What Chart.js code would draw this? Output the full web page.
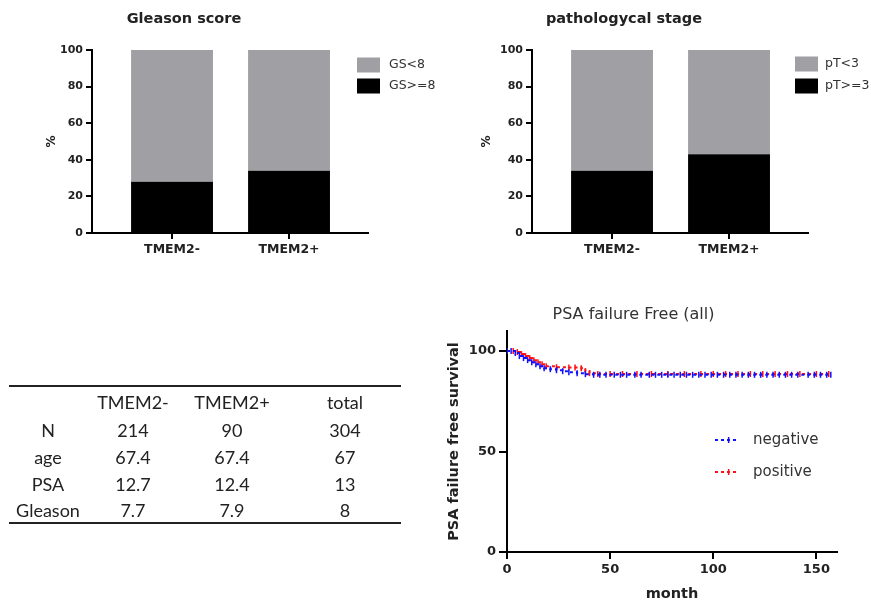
<!DOCTYPE html>
<html>
<head>
<meta charset="utf-8">
<script src="https://cdn.jsdelivr.net/npm/chart.js@4.4.1/dist/chart.umd.min.js"></script>
<style>
body{margin:0;background:#fff;width:871px;height:603px;overflow:hidden;position:relative;}
canvas{position:absolute;}
#tbl{position:absolute;left:0;top:0;width:871px;height:603px;font-family:Lato;font-size:18px;color:#222;}
.cell{position:absolute;transform:translate(-50%,-50%);white-space:nowrap;}
.rule{position:absolute;left:9px;width:392px;height:2px;background:#222;}
</style>
</head>
<body>
<canvas id="gleason" style="left:0;top:0" width="440" height="260"></canvas>
<canvas id="stage" style="left:440px;top:0" width="431" height="260"></canvas>
<div id="tbl"></div>
<canvas id="psa" style="left:430px;top:300px" width="441" height="303"></canvas>
<script>
// bar charts
var categories = ['TMEM2-', 'TMEM2+'];
var gsLow = [72, 66];     // GS<8
var gsHigh = [28, 34];    // GS>=8
var ptLow = [66, 57];     // pT<3
var ptHigh = [34, 43];    // pT>=3

// table
var tableHead = ['', 'TMEM2-', 'TMEM2+', 'total'];
var tableRowNames = ['N', 'age', 'PSA', 'Gleason'];
var tmemNeg = ['214', '67.4', '12.7', '7.7'];
var tmemPos = ['90', '67.4', '12.4', '7.9'];
var totals = ['304', '67', '13', '8'];

// survival curves
var negMonths = [0, 2, 4, 6, 8, 10, 12, 14, 16, 18, 21, 24, 27, 30, 34, 38, 42, 45, 48, 52, 55, 58, 62, 65, 69, 72, 75, 78, 81, 84, 87, 90, 93, 96, 99, 102, 105, 108, 111, 114, 117, 120, 123, 126, 129, 132, 135, 138, 141, 146, 149, 152, 155, 157];
var negSurv = [100, 100, 99, 97.5, 96.5, 95.5, 94.5, 93.5, 92.5, 91.5, 91, 90.5, 90, 89.5, 89, 88.5, 88.2, 88.2, 88.2, 88.2, 88.2, 88.2, 88.2, 88.2, 88.2, 88.2, 88.2, 88.2, 88.2, 88.2, 88.2, 88.2, 88.2, 88.2, 88.2, 88.2, 88.2, 88.2, 88.2, 88.2, 88.2, 88.2, 88.2, 88.2, 88.2, 88.2, 88.2, 88.2, 88.2, 88.2, 88.2, 88.2, 88.2, 88.2];
var posMonths = [0, 3, 5, 7, 9, 11, 13, 15, 17, 19, 24, 30, 33, 36, 38, 40, 44, 50, 56, 63, 70, 78, 86, 94, 100, 106, 112, 118, 124, 130, 136, 142, 150, 156];
var posSurv = [100, 100, 99.5, 98.5, 97.5, 96.5, 95.5, 94.5, 93.5, 92.5, 92, 91.8, 91.8, 91.5, 90, 89, 88.6, 88.6, 88.6, 88.6, 88.6, 88.6, 88.6, 88.6, 88.6, 88.6, 88.6, 88.6, 88.6, 88.6, 88.6, 88.6, 88.6, 88.6];
var monthTicks = [0, 50, 100, 150];
var survTicks = [0, 50, 100];

Chart.defaults.font.family = 'DejaVu Sans';
Chart.defaults.color = '#222';

// legend drawn at fixed spots (boxes for bars, dotted sample for lines)
var fixedLegend = {
  id: 'fixedLegend',
  afterDraw: function(chart, args, o){
    if(!o.items) return;
    var ctx = chart.ctx;
    ctx.save();
    ctx.font = o.font;
    ctx.textBaseline = 'middle';
    o.items.forEach(function(idx, k){
      var ds = chart.data.datasets[idx];
      var y = o.y + k * o.gap;
      if(o.kind === 'line'){
        ctx.strokeStyle = ds.borderColor;
        ctx.lineWidth = 2;
        ctx.setLineDash([3, 3]);
        ctx.beginPath(); ctx.moveTo(o.x, y); ctx.lineTo(o.x + o.w, y); ctx.stroke();
        ctx.setLineDash([]);
        ctx.lineWidth = 1.5;
        ctx.beginPath(); ctx.moveTo(o.x + o.w * 0.62, y - 3); ctx.lineTo(o.x + o.w * 0.62, y + 3); ctx.stroke();
      } else {
        ctx.fillStyle = ds.backgroundColor;
        ctx.fillRect(o.x, y - o.h / 2, o.w, o.h);
      }
      ctx.fillStyle = o.color;
      ctx.fillText(ds.label, o.textX, y);
    });
    ctx.restore();
  }
};
Chart.register(fixedLegend);

function axisLine(){
  return {color:'#000', width:2};
}
function tickGrid(len){
  return {drawOnChartArea:false, drawTicks:true, tickLength:len, color:'#000', lineWidth:2, offset:false};
}

function stackedBars(id, title, lowLabel, highLabel, low, high, padRight, yTitlePad, legend){
  return new Chart(document.getElementById(id), {
    type: 'bar',
    data: {
      datasets: [
        {label: highLabel, data: categories.map(function(c, i){ return {x: i + 1, y: high[i]}; }), backgroundColor: '#000'},
        {label: lowLabel, data: categories.map(function(c, i){ return {x: i + 1, y: low[i]}; }), backgroundColor: '#a0a0a4'}
      ]
    },
    options: {
      responsive: false,
      animation: false,
      layout: {padding: {left: 0, right: padRight, top: 0, bottom: 0}},
      datasets: {bar: {barPercentage: 1, categoryPercentage: 0.7}},
      plugins: {
        legend: {display: false},
        tooltip: {enabled: false},
        title: {display: true, text: title, color: '#222', font: {size: 14.5, weight: 'bold'}, padding: {top: 11, bottom: 21.6}},
        fixedLegend: legend
      },
      scales: {
        x: {
          type: 'linear', stacked: true, offset: false, min: 0.316, max: 2.675,
          afterFit: function(s){ s.height = 27; },
          afterBuildTicks: function(s){ s.ticks = categories.map(function(c, i){ return {value: i + 1}; }); },
          ticks: {callback: function(v){ return categories[v - 1]; }, font: {size: 12.5, weight: 'bold'}, color: '#222', padding: 3},
          grid: tickGrid(6),
          border: axisLine()
        },
        y: {
          stacked: true, min: 0, max: 100,
          afterFit: function(s){ s.width = 92; },
          ticks: {stepSize: 20, font: {size: 11, weight: 'bold'}, color: '#222', padding: 3},
          grid: tickGrid(6),
          border: axisLine(),
          title: {display: true, text: '%', color: '#222', font: {size: 12, weight: 'bold'}, padding: {top: yTitlePad, bottom: 0}}
        }
      }
    }
  });
}

stackedBars('gleason', 'Gleason score', 'GS<8', 'GS>=8', gsLow, gsHigh, 72, 45,
  {items: [1, 0], x: 357, textX: 389, y: 65, gap: 21, w: 23, h: 15, font: '12.5px DejaVu Sans', color: '#333'});
stackedBars('stage', 'pathologycal stage', 'pT<3', 'pT>=3', ptLow, ptHigh, 63, 40,
  {items: [1, 0], x: 355, textX: 385, y: 64, gap: 22, w: 23, h: 15, font: '12.5px DejaVu Sans', color: '#333'});

// table
(function(){
  var tbl = document.getElementById('tbl');
  var colX = [48, 133, 232, 345];
  var rowY = [402, 430, 457, 484, 510];
  function cell(txt, x, y){
    var d = document.createElement('div');
    d.className = 'cell';
    d.style.left = x + 'px';
    d.style.top = y + 'px';
    d.textContent = txt;
    tbl.appendChild(d);
  }
  function rule(y){
    var d = document.createElement('div');
    d.className = 'rule';
    d.style.top = y + 'px';
    tbl.appendChild(d);
  }
  rule(385);
  rule(522);
  tableHead.forEach(function(t, c){ if(t) cell(t, colX[c], rowY[0]); });
  tableRowNames.forEach(function(name, r){
    cell(name, colX[0], rowY[r + 1]);
    cell(tmemNeg[r], colX[1], rowY[r + 1]);
    cell(tmemPos[r], colX[2], rowY[r + 1]);
    cell(totals[r], colX[3], rowY[r + 1]);
  });
})();

// survival chart
function curve(label, months, surv, color){
  return {
    label: label,
    data: months.map(function(m, i){ return {x: m, y: surv[i]}; }),
    borderColor: color,
    backgroundColor: color,
    borderWidth: 2,
    borderDash: [3, 3],
    stepped: true,
    fill: false,
    pointStyle: 'line',
    pointRotation: 90,
    pointRadius: 3,
    pointBorderWidth: 1.5
  };
}

new Chart(document.getElementById('psa'), {
  type: 'line',
  data: {
    datasets: [
      curve('negative', negMonths, negSurv, '#1010ff'),
      curve('positive', posMonths, posSurv, '#ff1010')
    ]
  },
  options: {
    responsive: false,
    animation: false,
    layout: {padding: {left: 0, right: 34, top: 0, bottom: 0}},
    plugins: {
      legend: {display: false},
      tooltip: {enabled: false},
      title: {display: true, text: 'PSA failure Free (all)', color: '#333', font: {size: 16, weight: 'normal'}, padding: {top: 5.4, bottom: 6.4}},
      fixedLegend: {kind: 'line', items: [0, 1], x: 285, textX: 323, y: 140, gap: 32, w: 22, font: '15px DejaVu Sans', color: '#333'}
    },
    scales: {
      x: {
        type: 'linear', min: 0, max: 160,
        afterFit: function(s){ s.height = 51; },
        afterBuildTicks: function(s){ s.ticks = monthTicks.map(function(v){ return {value: v}; }); },
        ticks: {font: {size: 13, weight: 'bold'}, color: '#222', padding: 3},
        grid: tickGrid(7),
        border: axisLine(),
        title: {display: true, text: 'month', color: '#222', font: {size: 14.5, weight: 'bold'}, padding: {top: 0, bottom: 0}}
      },
      y: {
        min: 0, max: 110,
        afterFit: function(s){ s.width = 77; },
        afterBuildTicks: function(s){ s.ticks = survTicks.map(function(v){ return {value: v}; }); },
        ticks: {font: {size: 13, weight: 'bold'}, color: '#222', padding: 3},
        grid: tickGrid(8),
        border: axisLine(),
        title: {display: true, text: 'PSA failure free survival', color: '#222', font: {size: 14.5, weight: 'bold'}, padding: {top: 16, bottom: 0}}
      }
    }
  }
});
</script>
</body>
</html>
